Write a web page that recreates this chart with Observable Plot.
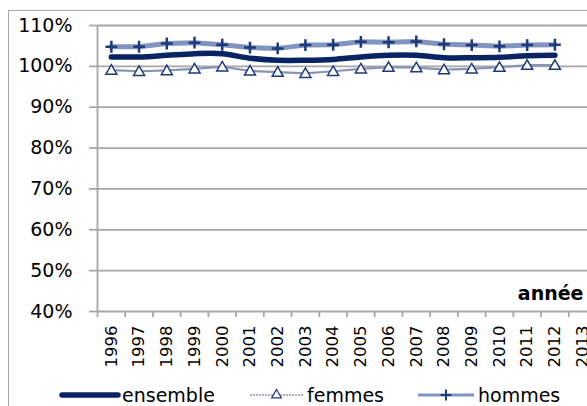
<!DOCTYPE html>
<html><head><meta charset="utf-8">
<script src="https://cdn.jsdelivr.net/npm/d3@7"></script>
<script src="https://cdn.jsdelivr.net/npm/@observablehq/plot@0.6"></script>
<style>
body{margin:0;background:#fff;width:587px;height:406px;overflow:hidden;position:relative;font-family:"DejaVu Sans",sans-serif}
#chart{position:absolute;left:0;top:0}
#legend{position:absolute;left:0;top:378px;width:587px;height:28px}
#frame{position:absolute;left:8px;top:10px;width:700px;height:500px;border-left:1.5px solid #a6a6a6;border-top:1.5px solid #a6a6a6;pointer-events:none}
#chart g[aria-label="x-axis tick"], #chart g[aria-label="y-axis tick"]{stroke:#a6a6a6;stroke-width:1.8}
#chart g[aria-label="x-axis"] .tick line, #chart g[aria-label="y-axis"] .tick line{stroke:#a6a6a6;stroke-width:1.8}
</style></head><body>
<div id="chart"></div><div id="legend"></div><div id="frame"></div>
<script>
// Data (percent)
const years = [1996,1997,1998,1999,2000,2001,2002,2003,2004,2005,2006,2007,2008,2009,2010,2011,2012];
const ensemble = [102.3,102.3,102.7,103.1,103.1,102.0,101.5,101.5,101.7,102.3,102.7,102.7,102.1,102.1,102.2,102.6,102.7];
const femmes   = [99.1,98.8,99.0,99.4,99.9,98.9,98.6,98.3,98.8,99.4,99.8,99.7,99.2,99.4,99.8,100.3,100.3];
const hommes   = [104.8,104.8,105.6,105.8,105.3,104.6,104.4,105.2,105.3,106.0,105.9,106.1,105.4,105.2,104.9,105.2,105.3];
const xLabels = [1996,1997,1998,1999,2000,2001,2002,2003,2004,2005,2006,2007,2008,2009,2010,2011,2012,2013];
const yTicks = [40,50,60,70,80,90,100,110];
const seriesNames = ["ensemble","femmes","hommes"];
const axisTitle = "année";

const xBounds = xLabels.map(d => d - 0.5).concat([xLabels[xLabels.length-1] + 0.5]);
const navy = "#0a2463", markerNavy = "#1f3a78";

const plot = Plot.plot({
  width: 587, height: 378,
  marginLeft: 97, marginTop: 25, marginBottom: 67, marginRight: 0,
  style: {fontFamily: "DejaVu Sans, sans-serif", fontSize: "19px", color: "#000", background: "transparent", overflow: "visible"},
  x: {type: "linear", domain: [xBounds[0], xBounds[xBounds.length-1]], range: [97, 596], ticks: xBounds, tickSize: 6, tickFormat: () => "", label: null},
  y: {domain: [40, 110], ticks: yTicks, tickSize: 8, tickPadding: 17, tickFormat: d => d + "%", label: null},
  marks: [
    Plot.ruleY(yTicks, {stroke: "#a6a6a6", strokeWidth: 1.8}),
    Plot.ruleX([xBounds[0]], {stroke: "#a6a6a6", strokeWidth: 1.8}),
    Plot.text(xLabels, {x: d => d, y: 40, text: d => String(d), rotate: -90, textAnchor: "end", dy: 14, fontSize: 16.5, fill: "#000"}),
    Plot.text([axisTitle], {frameAnchor: "bottom-right", text: d => d, dx: -4, dy: -12, fontWeight: "bold", fontSize: 19, fill: "#000"}),
    Plot.line(femmes, {x: years, y: femmes, stroke: "#8795b5", strokeWidth: 2.2}),
    Plot.dot(femmes, {x: years, y: femmes, symbol: "triangle", r: 4.1, fill: "#fff", stroke: markerNavy, strokeWidth: 1.5, dy: 1}),
    Plot.line(hommes, {x: years, y: hommes, stroke: "#8193bf", strokeWidth: 5}),
    Plot.dot(hommes, {x: years, y: hommes, symbol: "plus", r: 3.9, stroke: markerNavy, strokeWidth: 2.5}),
    Plot.line(ensemble, {x: years, y: ensemble, stroke: navy, strokeWidth: 5.5, curve: "catmull-rom", strokeLinecap: "round"})
  ]
});
document.getElementById("chart").appendChild(plot);

// Legend
const legendPos = [[62,118],[250,303],[418,474]];
const svg = d3.select("#legend").append("svg").attr("width", 587).attr("height", 28)
  .style("font-family", "DejaVu Sans, sans-serif").style("font-size", "19px");
seriesNames.forEach((name, i) => {
  const [a, b] = legendPos[i];
  const g = svg.append("g");
  if (name === "ensemble") {
    g.append("line").attr("x1", a).attr("x2", b).attr("y1", 17).attr("y2", 17)
      .attr("stroke", navy).attr("stroke-width", 5.5).attr("stroke-linecap", "round");
  } else if (name === "femmes") {
    g.append("line").attr("x1", a).attr("x2", b).attr("y1", 17).attr("y2", 17)
      .attr("stroke", "#8795b5").attr("stroke-width", 1.5).attr("stroke-dasharray", "2,1");
    g.append("path").attr("transform", `translate(${(a+b)/2},17)`)
      .attr("d", d3.symbol(d3.symbolTriangle, 40)()).attr("fill", "#fff").attr("stroke", markerNavy).attr("stroke-width", 1.3);
  } else {
    g.append("line").attr("x1", a).attr("x2", b).attr("y1", 17).attr("y2", 17)
      .attr("stroke", "#8193bf").attr("stroke-width", 3);
    g.append("path").attr("transform", `translate(${(a+b)/2},17)`)
      .attr("d", d3.symbol(d3.symbolPlus, 40)()).attr("fill", "none").attr("stroke", markerNavy).attr("stroke-width", 2);
  }
  g.append("text").attr("x", b + 4).attr("y", 23.5).attr("fill", "#000").text(name);
});
</script>
</body></html>
